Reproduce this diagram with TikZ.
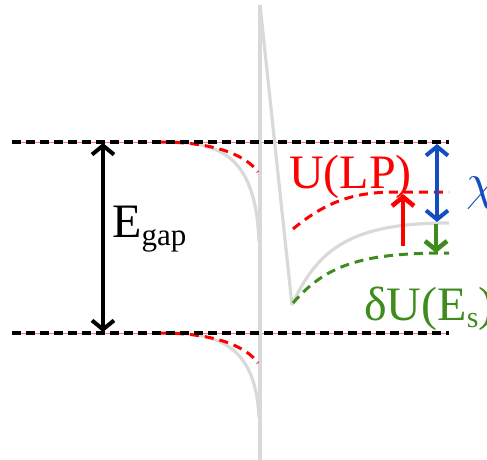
\documentclass[tikz,border=0pt]{standalone}
\usepackage{fontspec}
\setmainfont{Liberation Serif}
\usetikzlibrary{arrows.meta}
\definecolor{abuabu}{RGB}{217,217,217}
\definecolor{merah}{RGB}{255,0,0}
\definecolor{hijau}{RGB}{62,140,30}
\definecolor{biru}{RGB}{18,78,192}

\begin{document}
\begin{tikzpicture}[x=1pt, y=-1pt,
        level/.style={black, dash pattern=on 9pt off 5pt, line width=3.4pt},
        levelred/.style={merah!55, line width=0.9pt},
        guide/.style={abuabu, line width=3.2pt},
        curvedash/.style={dash pattern=on 9pt off 6pt, line width=3pt},
        gaparrow/.style={line width=4pt, {Straight Barb[length=9pt,width=22pt]}-{Straight Barb[length=9pt,width=22pt]}},
        onearrow/.style={line width=4.6pt, -{Straight Barb[length=9pt,width=22pt]}},
        lbl/.style={inner sep=0pt, font=\fontsize{48}{50}\selectfont}
    ]
    \useasboundingbox (0,0) rectangle (487,460);
    \clip (0,0) rectangle (487,460);

    % band edges
    \coordinate (cbl) at (12,142);  \coordinate (cbr) at (449,142);
    \coordinate (vbl) at (12,333);  \coordinate (vbr) at (449,333);
    \draw[levelred] (cbl) -- (cbr);
    \draw[levelred] (vbl) -- (vbr);

    % interface and potential
    \coordinate (itop) at (260,5);
    \coordinate (ibot) at (260,462);
    \coordinate (dip)  at (292,305);
    \draw[guide] (itop) -- (ibot);
    \draw[guide] (itop) -- (dip);
    \draw[guide] (dip) .. controls (318,248) and (352,223) .. (449,223);
    \draw[guide] (168,142) .. controls (222,142) and (256,158) .. (259,242);
    \draw[guide] (168,333) .. controls (222,333) and (256,349) .. (259,418);

    % shifted levels
    \draw[merah, curvedash] (160,142) .. controls (212,142) and (245,154) .. (258,172);
    \draw[merah, curvedash] (160,333) .. controls (212,333) and (245,345) .. (258,363);
    \draw[merah, curvedash] (293,229) .. controls (330,198) and (360,192) .. (397,192) -- (449,192);
    \draw[hijau, curvedash] (293,303) .. controls (328,262) and (368,253) .. (449,253);

    \draw[level] (cbl) -- (cbr);
    \draw[level] (vbl) -- (vbr);

    % arrows
    \coordinate (gaptop) at (103,143);
    \coordinate (gapbot) at (103,332);
    \draw[gaparrow, black] (gaptop) -- (gapbot);
    \coordinate (chitop) at (437,144);
    \coordinate (chibot) at (437,222);
    \draw[gaparrow, biru] (chitop) -- (chibot);
    \coordinate (lpbot) at (403,246);
    \coordinate (lptop) at (403,194);
    \draw[onearrow, merah] (lpbot) -- (lptop);
    \coordinate (esttop) at (436,224);
    \coordinate (estbot) at (436,253);
    \draw[onearrow, hijau] (esttop) -- (estbot);

    % labels
    \node[lbl, anchor=base west] (egap) at (112,237)
        {E\raisebox{-8pt}{\fontsize{31}{31}\selectfont gap}};
    \node[lbl, anchor=base west, text=merah] (ulp) at (289,188) {U(LP)};
    \node[lbl, anchor=base west, text=biru] (chi) at (466,199) {\scalebox{2.1}{$\chi$}};
    \node[lbl, anchor=base west, text=hijau] (dues) at (364,320)
        {δU(E\raisebox{-7pt}{\fontsize{30}{30}\selectfont s})};
\end{tikzpicture}
\end{document}
